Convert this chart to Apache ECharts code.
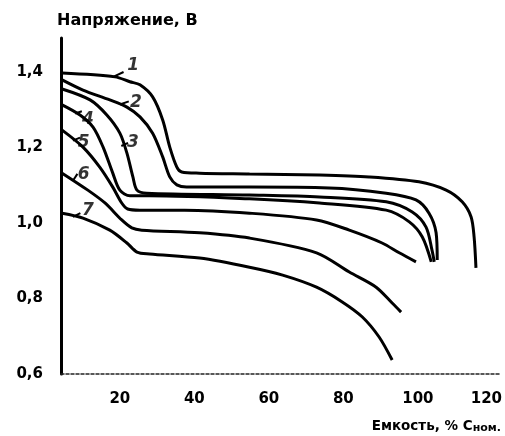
<!DOCTYPE html>
<html>
<head>
<meta charset="utf-8">
<script src="https://cdn.jsdelivr.net/npm/echarts@6/dist/echarts.min.js"></script>
<style>
  html, body { margin: 0; padding: 0; background: #fff; }
  #main { width: 505px; height: 436px; }
</style>
</head>
<body>
<div id="main"></div>
<script>
// discharge curves, [capacity %, voltage V]
var curve1 = [[4.5,1.397],[18.7,1.387],[22.7,1.374],[25.4,1.366],[28.8,1.334],[31.5,1.273],[33.4,1.201],[35.3,1.148],[36.6,1.135],[41.4,1.132],[54.8,1.130],[73.6,1.127],[86.9,1.122],[100.3,1.109],[107.6,1.087],[111.9,1.056],[114.3,1.016],[115.1,0.963],[115.6,0.881]];
var curve2 = [[4.5,1.379],[10.1,1.352],[17.3,1.326],[21.9,1.307],[25.4,1.281],[28.8,1.238],[31.5,1.175],[33.4,1.122],[35.3,1.101],[37.9,1.095],[54.8,1.095],[76.2,1.093],[91.5,1.079],[99.5,1.061],[103.0,1.026],[104.9,0.974],[105.2,0.902]];
var curve3 = [[4.5,1.355],[12.0,1.326],[16.5,1.286],[20.0,1.238],[21.9,1.185],[23.5,1.122],[24.6,1.087],[27.2,1.079],[54.8,1.074],[73.6,1.069],[91.5,1.056],[98.5,1.029],[102.2,0.989],[103.8,0.928],[104.4,0.897]];
var curve4 = [[4.5,1.313],[9.3,1.286],[12.8,1.254],[15.5,1.201],[18.1,1.132],[20.0,1.087],[22.7,1.072],[28.0,1.072],[54.8,1.064],[73.6,1.053],[91.5,1.034],[97.7,1.003],[101.2,0.963],[103.6,0.897]];
var curve5 = [[4.5,1.246],[10.1,1.201],[14.6,1.148],[18.1,1.095],[20.5,1.053],[22.1,1.037],[25.4,1.034],[37.4,1.034],[54.8,1.026],[72.8,1.008],[81.6,0.981],[90.4,0.947],[95.0,0.921],[99.5,0.897]];
var curve6 = [[4.5,1.132],[11.4,1.087],[16.0,1.053],[20.5,1.008],[23.2,0.987],[25.9,0.981],[41.4,0.974],[54.8,0.960],[72.8,0.921],[81.6,0.870],[88.8,0.830],[93.1,0.788],[95.5,0.764]];
var curve7 = [[4.5,1.026],[10.1,1.013],[17.3,0.981],[21.9,0.947],[24.6,0.923],[28.0,0.918],[41.4,0.907],[54.8,0.883],[63.7,0.862],[72.8,0.830],[79.7,0.791],[85.1,0.751],[89.6,0.698],[93.1,0.637]];
var curves = [curve1, curve2, curve3, curve4, curve5, curve6, curve7];

// curve numbers and their little leader strokes (data coords)
var curveNames = ['1', '2', '3', '4', '5', '6', '7'];
var nameX = [23.6, 24.3, 23.5, 11.4, 10.3, 10.3, 11.4];
var nameY = [1.418, 1.320, 1.212, 1.273, 1.212, 1.127, 1.034];
var leaderFrom = [[18.2,1.387],[20.0,1.314],[20.4,1.204],[8.0,1.290],[7.4,1.218],[7.4,1.112],[7.4,1.016]];
var leaderTo = [[21.0,1.400],[22.4,1.322],[22.2,1.212],[9.8,1.296],[9.3,1.226],[8.6,1.130],[9.4,1.026]];

var yTicks = [0.6, 0.8, 1.0, 1.2, 1.4];
var xTicks = [20, 40, 60, 80, 100, 120];

var chart = echarts.init(document.getElementById('main'));
var FONT = '"DejaVu Sans", sans-serif';

var series = [];
var each = function (arr, fn) { for (var i = 0; i < arr.length; i++) fn(i, arr[i]); };
each(curves, function (i, c) {
    series.push({
        name: curveNames[i],
        type: 'line',
        data: c,
        smooth: 0.3,
        symbol: 'none',
        lineStyle: { color: '#000', width: 3 },
        z: 3
    });
});

var nameData = [];
var leaders = [];
each(curveNames, function (i, n) {
    nameData.push({ value: [nameX[i], nameY[i]], name: n });
    leaders.push([{ coord: leaderFrom[i] }, { coord: leaderTo[i] }]);
});

series.push({
    type: 'scatter',
    data: nameData,
    symbolSize: 1,
    itemStyle: { color: 'rgba(0,0,0,0)' },
    label: {
        show: true,
        position: 'inside',
        formatter: function (p) { return p.name; },
        fontFamily: FONT,
        fontStyle: 'italic',
        fontWeight: 'bold',
        fontSize: 17,
        color: '#000'
    },
    markLine: {
        silent: true,
        symbol: ['none', 'none'],
        label: { show: false },
        lineStyle: { color: '#000', width: 2, type: 'solid' },
        data: leaders
    },
    z: 4
});

var option = {
    animation: false,
    backgroundColor: '#fff',
    title: [{
        text: 'Напряжение, В',
        left: 57,
        top: 13,
        padding: 0,
        textStyle: { fontFamily: FONT, fontWeight: 'bold', fontSize: 16, color: '#000' }
    }, {
        text: 'Емкость, % С{s|ном.}',
        right: 4,
        top: 418,
        padding: 0,
        textStyle: {
            fontFamily: FONT, fontWeight: 'bold', fontSize: 13.5, color: '#000',
            rich: { s: { fontFamily: FONT, fontWeight: 'bold', fontSize: 11, color: '#000', padding: [5, 0, 0, 0] } }
        }
    }],
    grid: { left: 61, right: 3, top: 38, bottom: 62 },
    xAxis: {
        type: 'value',
        min: 4.2,
        max: 122.3,
        axisLine: { show: true, lineStyle: { color: '#222', width: 1.5, type: [3, 2] } },
        axisTick: { show: false },
        splitLine: { show: false },
        axisLabel: {
            customValues: xTicks,
            margin: 18,
            fontFamily: FONT,
            fontWeight: 'bold',
            fontSize: 15,
            color: '#000',
            formatter: function (v) {
                return v === 120 ? '{e|' + v + '}' : String(v);
            },
            rich: { e: { fontFamily: FONT, fontWeight: 'bold', fontSize: 15, color: '#000', padding: [0, 12, 0, 0] } }
        }
    },
    yAxis: {
        type: 'value',
        min: 0.6,
        max: 1.49,
        axisLine: { show: true, lineStyle: { color: '#000', width: 3 } },
        axisTick: { show: false },
        splitLine: { show: false },
        axisLabel: {
            customValues: yTicks,
            margin: 18,
            fontFamily: FONT,
            fontWeight: 'bold',
            fontSize: 15,
            color: '#000',
            formatter: function (v) { return v.toFixed(1).replace('.', ','); }
        }
    },
    series: series
};

chart.setOption(option);
</script>
</body>
</html>
